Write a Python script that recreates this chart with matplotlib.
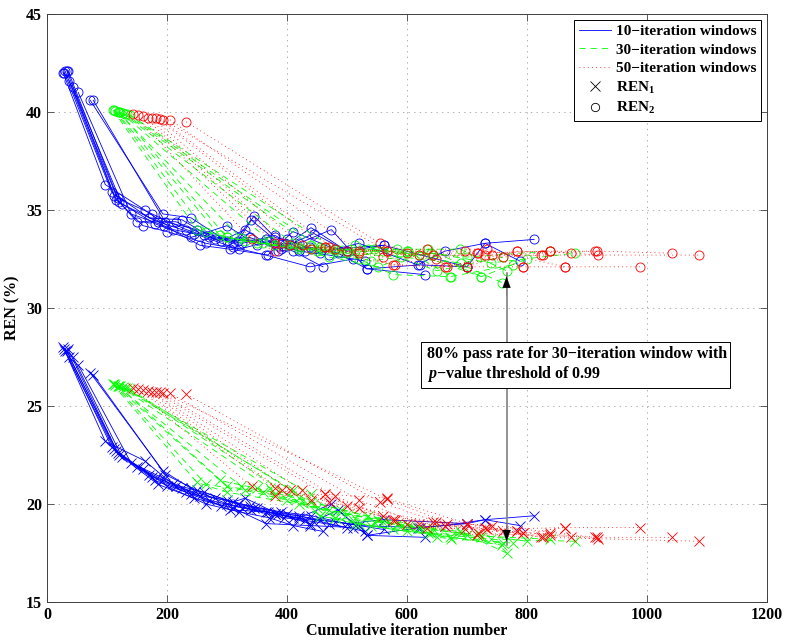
import numpy as np
import matplotlib.pyplot as plt
from matplotlib.patches import Rectangle
from matplotlib.lines import Line2D

plt.rcParams['font.family'] = ['Liberation Serif', 'DejaVu Serif']
plt.rcParams['font.weight'] = 'bold'
plt.rcParams['axes.labelweight'] = 'bold'
plt.rcParams['font.size'] = 11.5
plt.rcParams['mathtext.fontset'] = 'custom'
plt.rcParams['mathtext.rm'] = 'Liberation Serif:bold'
plt.rcParams['mathtext.it'] = 'Liberation Serif:italic:bold'
plt.rcParams['mathtext.default'] = 'regular'
plt.rcParams['lines.scale_dashes'] = False

# 10-iteration windows: cumulative iteration, REN2 (%), REN1 (%)
blue_x = [
    [27, 97, 163, 210, 262, 318, 345, 380, 420, 474, 533, 630],
    [29, 108, 170, 225, 280, 338, 390, 440, 500, 561, 700],
    [33, 115, 180, 240, 300, 350, 400, 455, 520, 618, 663, 730, 788],
    [35, 118, 175, 232, 290, 330, 385, 438, 485, 533, 622, 700, 730, 812],
    [37, 120, 160, 200, 265, 320, 370, 410, 460],
    [43, 125, 185, 245, 310, 365, 438, 510],
    [52, 140, 195, 255, 305, 368, 410, 480, 561],
    [72, 193, 240, 300, 365, 420, 470, 530],
    [77, 197, 250, 310, 340, 395, 445, 500],
    [30, 112, 150, 215, 270, 325, 380, 430],
]
blue_ren2 = [
    [42.0, 36.3, 35.0, 34.0, 33.7, 33.4, 34.7, 33.6, 33.3, 34.0, 32.0, 31.7],
    [42.0, 35.9, 34.6, 34.5, 33.5, 33.6, 33.0, 34.1, 32.9, 33.2, 32.1],
    [42.1, 35.5, 34.3, 33.6, 34.2, 33.2, 33.5, 32.8, 33.3, 32.2, 32.9, 33.3, 32.4],
    [42.1, 35.6, 34.8, 34.0, 33.4, 34.0, 32.9, 33.1, 32.8, 32.0, 32.2, 32.1, 33.3, 33.5],
    [41.6, 35.4, 34.2, 33.9, 33.3, 33.0, 33.4, 32.9, 32.1],
    [41.3, 35.3, 34.4, 33.8, 33.1, 32.7, 32.1, 32.5],
    [41.0, 34.8, 34.2, 33.2, 33.0, 32.7, 33.9, 33.0, 33.2],
    [40.6, 34.8, 34.6, 33.4, 33.5, 32.9, 32.7, 32.4],
    [40.6, 34.4, 34.0, 33.3, 34.5, 33.1, 33.8, 32.9],
    [42.1, 35.7, 34.4, 34.4, 33.6, 33.3, 33.7, 32.9],
]
blue_ren1 = [
    [28.0, 23.2, 22.2, 21.0, 20.6, 20.0, 19.8, 19.5, 19.3, 20.0, 18.4, 18.3],
    [27.9, 22.9, 21.5, 20.8, 20.3, 19.9, 19.6, 19.4, 19.0, 19.2, 19.0],
    [27.8, 22.7, 21.2, 20.5, 20.2, 19.8, 19.5, 19.2, 18.9, 18.8, 18.9, 19.2, 18.9],
    [27.9, 22.6, 21.4, 20.6, 19.9, 20.3, 19.5, 19.0, 19.7, 18.4, 18.8, 19.0, 19.2, 19.4],
    [27.5, 22.5, 21.8, 20.9, 20.0, 19.6, 19.3, 18.9, 18.6],
    [27.5, 22.4, 21.0, 20.3, 19.8, 19.0, 18.9, 18.8],
    [27.1, 22.1, 21.3, 20.4, 19.7, 19.6, 19.3, 19.1, 18.7],
    [26.7, 21.7, 20.8, 20.0, 19.6, 19.4, 19.0, 18.6],
    [26.6, 21.5, 20.7, 20.1, 19.7, 19.3, 19.1, 18.8],
    [27.8, 22.8, 21.9, 20.9, 20.2, 19.8, 19.5, 19.2],
]

# 30-iteration windows
green_x = [
    [110, 250, 300, 420, 513, 602, 674],
    [114, 288, 350, 440, 535, 643, 724],
    [118, 324, 380, 470, 552, 635, 758],
    [122, 372, 420, 490, 583, 688, 766],
    [126, 410, 455, 520, 577, 672, 777],
    [130, 440, 480, 545, 620, 724, 800],
    [134, 455, 513, 600, 700, 838],
    [138, 480, 540, 640, 740, 880],
    [112, 265, 330, 400, 500, 590, 690],
    [120, 300, 360, 450, 560, 650, 760],
]
green_ren2 = [
    [40.1, 34.0, 33.6, 33.0, 33.2, 32.9, 31.6],
    [40.05, 33.7, 33.3, 33.0, 33.0, 32.7, 31.6],
    [40.0, 33.55, 33.2, 32.6, 32.1, 33.0, 31.3],
    [40.0, 33.4, 33.1, 32.8, 33.0, 33.0, 31.9],
    [39.95, 33.3, 33.0, 32.5, 31.7, 31.6, 32.2],
    [39.9, 33.2, 32.9, 33.0, 32.7, 31.6, 32.5],
    [39.9, 33.1, 32.9, 32.9, 32.6, 32.9],
    [39.85, 33.0, 32.4, 32.8, 32.3, 32.8],
    [40.1, 33.9, 33.4, 33.2, 32.8, 32.6, 32.3],
    [40.0, 33.6, 33.3, 32.9, 32.9, 31.9, 32.6],
]
green_ren1 = [
    [26.1, 21.1, 20.6, 20.0, 19.3, 18.9, 18.2],
    [26.05, 21.2, 20.8, 20.1, 19.4, 18.7, 18.3],
    [26.0, 20.9, 20.5, 19.7, 19.2, 18.5, 17.9],
    [26.0, 20.8, 20.3, 19.7, 19.0, 18.6, 17.5],
    [25.95, 20.7, 19.4, 19.0, 18.7, 18.3, 18.0],
    [25.9, 20.5, 19.3, 19.1, 18.8, 18.4, 18.1],
    [25.9, 19.4, 19.0, 18.6, 18.4, 18.2],
    [25.85, 19.3, 18.9, 18.5, 18.2, 18.1],
    [26.1, 21.0, 20.7, 20.2, 19.5, 18.9, 18.5],
    [26.0, 20.9, 20.6, 19.8, 19.1, 18.3, 18.0],
]

# 50-iteration windows
red_x = [
    [144, 341, 380, 463, 566, 700, 794],
    [152, 380, 440, 580, 663, 783, 874],
    [160, 391, 470, 600, 716, 838, 919],
    [169, 405, 500, 633, 733, 863, 988],
    [175, 425, 520, 643, 741, 913, 1041],
    [182, 463, 560, 666, 760, 826, 1087],
    [194, 566, 697, 794, 863],
    [232, 555, 649, 718, 838, 916],
    [188, 480, 577, 700, 783],
    [205, 520, 620, 730, 824],
]
red_ren2 = [
    [39.9, 33.5, 32.9, 33.1, 32.9, 32.1, 32.1],
    [39.85, 33.3, 33.0, 32.2, 32.1, 32.9, 32.8],
    [39.8, 33.3, 33.1, 32.8, 32.8, 32.9, 32.7],
    [39.7, 33.2, 32.9, 33.0, 33.0, 32.1, 32.1],
    [39.7, 33.2, 32.8, 32.7, 32.7, 32.9, 32.8],
    [39.7, 33.1, 32.6, 32.1, 32.6, 32.7, 32.7],
    [39.6, 32.9, 32.9, 32.1, 32.1],
    [39.5, 33.3, 32.5, 32.8, 32.9, 32.9],
    [39.65, 33.0, 32.2, 32.1, 32.9],
    [39.6, 32.9, 32.7, 32.7, 32.7],
]
red_ren1 = [
    [25.9, 20.9, 20.4, 20.5, 20.3, 19.0, 18.5],
    [25.85, 20.8, 20.2, 19.2, 18.9, 18.6, 18.3],
    [25.8, 20.7, 20.1, 19.0, 18.4, 18.5, 18.2],
    [25.75, 20.7, 19.9, 18.8, 18.7, 18.8, 18.8],
    [25.7, 20.7, 19.8, 19.1, 18.9, 18.3, 18.3],
    [25.7, 20.5, 19.4, 19.0, 18.6, 18.3, 18.1],
    [25.65, 20.25, 18.7, 18.5, 18.8],
    [25.6, 20.1, 19.1, 18.5, 18.4, 18.3],
    [25.7, 20.4, 19.2, 19.0, 18.6],
    [25.65, 20.2, 19.0, 18.8, 18.3],
]

fig = plt.figure(figsize=(7.89, 6.42), dpi=100)
ax = fig.add_axes([0.0596, 0.0623, 0.9124, 0.9159])

styles = [
    (blue_x, blue_ren1, blue_ren2, dict(color='b', ls='-')),
    (green_x, green_ren1, green_ren2, dict(color=(0, 1, 0), dashes=(4.5, 3.5))),
    (red_x, red_ren1, red_ren2, dict(color='r', dashes=(0.6, 2.4))),
]
for xs, r1, r2, st in styles:
    for x, y1, y2 in zip(xs, r1, r2):
        ax.plot(x, y2, lw=0.6, marker='o', ms=6.5, mfc='none', mew=0.6, **st)
        ax.plot(x, y1, lw=0.6, marker='x', ms=7, mew=0.6, **st)

# annotation: double arrow with text box
ax.plot([766, 766], [17.9, 31.8], color='#808080', lw=1.2, zorder=5)
ax.annotate('', xy=(766, 31.75), xytext=(766, 30.5),
            arrowprops=dict(arrowstyle='-|>,head_length=0.7,head_width=0.25',
                            color='k', lw=0.1), zorder=6)
ax.annotate('', xy=(766, 17.95), xytext=(766, 19.2),
            arrowprops=dict(arrowstyle='-|>,head_length=0.7,head_width=0.25',
                            color='k', lw=0.1), zorder=6)
ax.add_patch(Rectangle((623, 25.9), 515, 2.37, fc='white', ec='k', lw=0.7, zorder=7))
ax.text(633, 27.1, '80% pass rate for 30\u2212iteration window with\n'
        '$\\mathit{p}$\u2212value threshold of 0.99',
        va='center', ha='left', fontsize=11.5, fontweight='bold',
        linespacing=1.15, zorder=8)

ax.set_xlim(0, 1200)
ax.set_ylim(15, 45)
ax.set_xticks(np.arange(0, 1201, 200))
ax.set_yticks(np.arange(15, 46, 5))
ax.grid(True, color='#b0b0b0', lw=0.7, dashes=(1, 3))
ax.tick_params(direction='in', length=5, width=0.6, top=True, right=True,
               color='#404040', labelsize=11.5)
for lab in ax.get_xticklabels() + ax.get_yticklabels():
    lab.set_fontweight('bold')
for s in ax.spines.values():
    s.set_color('#404040')
    s.set_linewidth(0.7)

ax.set_xlabel('Cumulative iteration number', labelpad=0, fontweight='bold')
ax.set_ylabel('REN (%)', labelpad=4, fontweight='bold')

handles = [
    Line2D([], [], color='b', lw=0.6),
    Line2D([], [], color=(0, 1, 0), lw=0.6, dashes=(4.5, 3.5)),
    Line2D([], [], color='r', lw=0.6, dashes=(0.6, 2.4)),
    Line2D([], [], color='k', ls='none', marker='x', ms=7, mew=0.6),
    Line2D([], [], color='k', ls='none', marker='o', ms=6, mfc='none', mew=0.6),
]
labels = ['10\u2212iteration windows', '30\u2212iteration windows',
          '50\u2212iteration windows', 'REN$_1$', 'REN$_2$']
leg = ax.legend(handles, labels, loc='upper right', fancybox=False,
                edgecolor='k', framealpha=1, handlelength=2.1,
                handletextpad=0.3, labelspacing=0.3, borderaxespad=0.4,
                borderpad=0.3, prop=dict(size=11, weight='bold'))
leg.get_frame().set_linewidth(0.7)

fig.savefig('out.png', dpi=100)
